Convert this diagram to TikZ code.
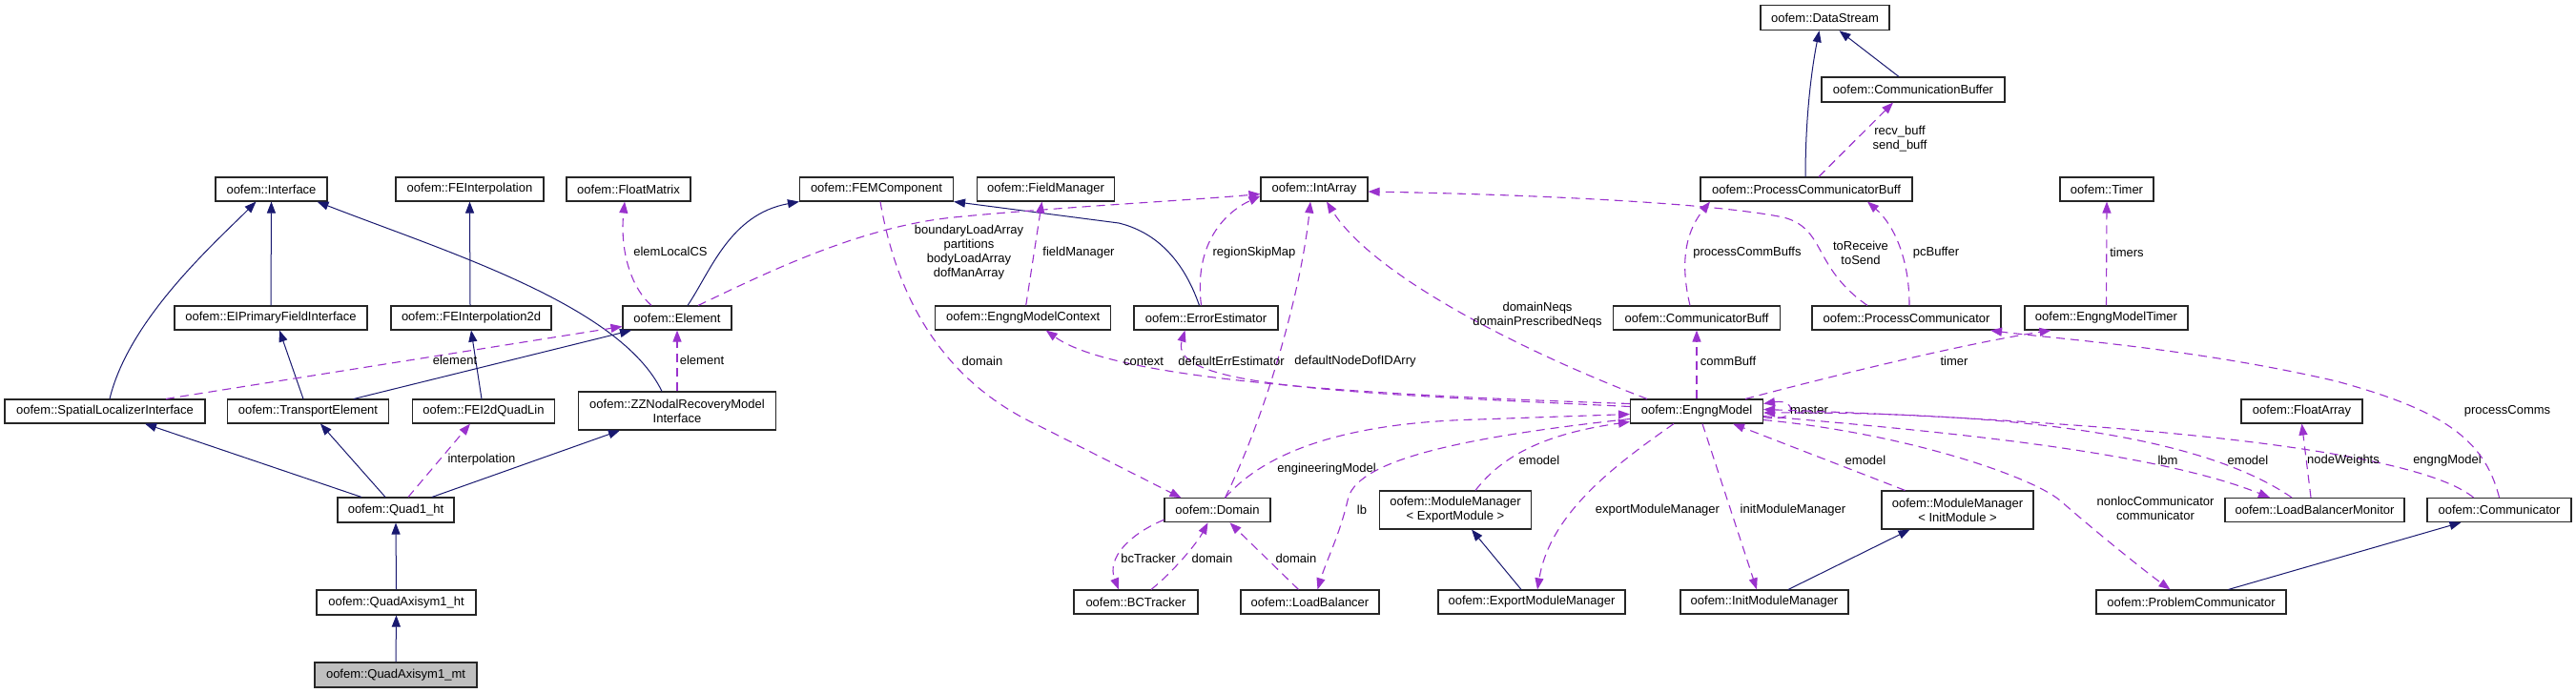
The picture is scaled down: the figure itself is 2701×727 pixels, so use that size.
\documentclass[tikz,border=0pt]{standalone}
\usepackage{fontspec}
\setmainfont{Liberation Sans}
\usetikzlibrary{arrows.meta}
\definecolor{navyc}{HTML}{191970}
\definecolor{purp}{HTML}{9A32CD}
\definecolor{grayfill}{HTML}{BFBFBF}
\newcommand\dgfont{\fontsize{13}{15}\selectfont}
\tikzset{
  box/.style={draw=black!85, line width=1.1pt, fill=white, inner sep=0pt, font=\dgfont, align=center, rectangle},
  inh/.style={draw=navyc, line width=1pt, -{Triangle[length=12pt,width=9pt]}},
  use/.style={draw=purp, line width=1.1pt, dash pattern=on 9pt off 6pt, -{Triangle[length=12pt,width=9pt]}},
  lab/.style={font=\dgfont, inner sep=0pt, align=center}
}
\begin{document}
\begin{tikzpicture}[x=1pt,y=-1pt]
\fill[white] (0,0) rectangle (2701,727);
\useasboundingbox (0,0) rectangle (2701,727);
% row 0
\node[box, minimum width=135pt, minimum height=26pt] (dstream) at (1913.5,18.7) {oofem::DataStream};
\node[box, minimum width=192pt, minimum height=26pt] (cbuf) at (2006,94) {oofem::CommunicationBuffer};
% row 1
\node[box, minimum width=117pt, minimum height=25pt] (intf) at (284.5,198.5) {oofem::Interface};
\node[box, minimum width=155pt, minimum height=25pt] (feint) at (492.5,198.5) {oofem::FEInterpolation};
\node[box, minimum width=130pt, minimum height=25pt] (fmat) at (659,198.5) {oofem::FloatMatrix};
\node[box, minimum width=161pt, minimum height=25pt] (femc) at (919,198.5) {oofem::FEMComponent};
\node[box, minimum width=144pt, minimum height=25pt] (fman) at (1096.5,198.5) {oofem::FieldManager};
\node[box, minimum width=112pt, minimum height=25pt] (iarr) at (1378,198.5) {oofem::IntArray};
\node[box, minimum width=222pt, minimum height=25pt] (pcb) at (1894,198.5) {oofem::ProcessCommunicatorBuff};
\node[box, minimum width=98pt, minimum height=25pt] (timer) at (2209,198.5) {oofem::Timer};
% row 2
\node[box, minimum width=202pt, minimum height=25pt] (elpf) at (284,333.5) {oofem::EIPrimaryFieldInterface};
\node[box, minimum width=168pt, minimum height=25pt] (fe2d) at (494,333.5) {oofem::FEInterpolation2d};
\node[box, minimum width=114pt, minimum height=25pt] (elem) at (710,333.5) {oofem::Element};
\node[box, minimum width=184pt, minimum height=25pt] (emctx) at (1072.7,333.5) {oofem::EngngModelContext};
\node[box, minimum width=151pt, minimum height=25pt] (errest) at (1264.5,333.5) {oofem::ErrorEstimator};
\node[box, minimum width=175pt, minimum height=25pt] (combuff) at (1779,333.5) {oofem::CommunicatorBuff};
\node[box, minimum width=198pt, minimum height=25pt] (pcomm) at (1999,333.5) {oofem::ProcessCommunicator};
\node[box, minimum width=171pt, minimum height=25pt] (emtimer) at (2208.5,333.5) {oofem::EngngModelTimer};
% row 3
\node[box, minimum width=210pt, minimum height=25pt] (sli) at (110,431.5) {oofem::SpatialLocalizerInterface};
\node[box, minimum width=169pt, minimum height=25pt] (transp) at (323,431.5) {oofem::TransportElement};
\node[box, minimum width=149pt, minimum height=25pt] (fei) at (507,431.5) {oofem::FEI2dQuadLin};
\node[box, minimum width=207pt, minimum height=40pt] (zz) at (710,431) {oofem::ZZNodalRecoveryModel\\Interface};
\node[box, minimum width=139pt, minimum height=25pt] (engng) at (1779,431.5) {oofem::EngngModel};
\node[box, minimum width=127pt, minimum height=25pt] (farr) at (2413.5,431.5) {oofem::FloatArray};
% row 4
\node[box, minimum width=122pt, minimum height=26pt] (quad) at (415,535) {oofem::Quad1\_ht};
\node[box, minimum width=111pt, minimum height=25pt] (domain) at (1276.5,535.3) {oofem::Domain};
\node[box, minimum width=159pt, minimum height=40pt] (mmexp) at (1526,535) {oofem::ModuleManager\\< ExportModule >};
\node[box, minimum width=159pt, minimum height=40pt] (mminit) at (2052.5,535) {oofem::ModuleManager\\< InitModule >};
\node[box, minimum width=188pt, minimum height=25pt] (lbm) at (2427,535) {oofem::LoadBalancerMonitor};
\node[box, minimum width=151pt, minimum height=25pt] (comm) at (2620.5,535) {oofem::Communicator};
% row 5
\node[box, minimum width=167pt, minimum height=26pt] (qaht) at (415.5,632) {oofem::QuadAxisym1\_ht};
\node[box, minimum width=130pt, minimum height=25pt] (bct) at (1191,631.5) {oofem::BCTracker};
\node[box, minimum width=145pt, minimum height=25pt] (lbal) at (1373.5,631.5) {oofem::LoadBalancer};
\node[box, minimum width=196pt, minimum height=25pt] (emm) at (1606,631.5) {oofem::ExportModuleManager};
\node[box, minimum width=176pt, minimum height=25pt] (imm) at (1850,631.5) {oofem::InitModuleManager};
\node[box, minimum width=199pt, minimum height=25pt] (prbc) at (2297.5,631.5) {oofem::ProblemCommunicator};
% row 6
\node[box, fill=grayfill, minimum width=170pt, minimum height=26pt] (qamt) at (415,708) {oofem::QuadAxisym1\_mt};

% inheritance edges
\draw[inh] (qamt.north) -- (qaht.south);
\draw[inh] (qaht.north) -- (quad.south);
\draw[inh] ([xshift=-36pt]quad.north) -- ([xshift=42pt]sli.south);
\draw[inh] ([xshift=-11pt]quad.north) -- ([xshift=13pt]transp.south);
\draw[inh] ([xshift=38pt]quad.north) -- ([xshift=-60pt]zz.south);
\draw[inh] ([xshift=5pt]sli.north) .. controls (135,335) and (225,255) .. ([xshift=-16pt]intf.south);
\draw[inh] (elpf.north) -- (intf.south);
\draw[inh] ([xshift=-16pt]zz.north) .. controls (650,320) and (470,265) .. ([xshift=48pt]intf.south);
\draw[inh] ([xshift=-5pt]transp.north) -- ([xshift=9pt]elpf.south);
\draw[inh] ([xshift=48pt]transp.north) -- ([xshift=-48pt]elem.south);
\draw[inh] ([xshift=-2pt]fei.north) -- (fe2d.south);
\draw[inh] ([xshift=-1pt]fe2d.north) -- (feint.south);
\draw[inh] ([xshift=11pt]elem.north) .. controls (745,285) and (765,225) .. (femc.south west);
\draw[inh] ([xshift=-7pt]errest.north) .. controls (1240,270) and (1210,243) .. (1173,234) -- (femc.south east);
\draw[inh] ([xshift=-1pt]pcb.north) .. controls (1893,120) and (1900,70) .. ([xshift=-6pt]dstream.south);
\draw[inh] ([xshift=-15pt]cbuf.north) -- ([xshift=15pt]dstream.south);
\draw[inh] ([xshift=-11pt]emm.north) -- ([xshift=17pt]mmexp.south);
\draw[inh] ([xshift=25pt]imm.north) -- ([xshift=-50pt]mminit.south);
\draw[inh] ([xshift=39pt]prbc.north) -- ([xshift=-40pt]comm.south);

% usage edges
\draw[use] ([xshift=13pt]quad.north) -- ([xshift=-14pt]fei.south);
\node[lab] (l1) at (505,482) {interpolation};
\draw[use] ([xshift=64pt]sli.north) -- ([yshift=-9pt]elem.west);
\node[lab] (l2) at (477,378) {element};
\draw[use] (zz.north) -- (elem.south);
\node[lab] (l3) at (736,378) {element};
\draw[use] ([xshift=-27pt]elem.north) .. controls (660,300) and (650,260) .. ([xshift=-4pt]fmat.south);
\node[lab] (l4) at (703,264) {elemLocalCS};
\draw[use] ([xshift=22pt]elem.north) .. controls (800,288) and (900,238) .. (1000,228) .. controls (1100,218) and (1250,210) .. ([yshift=-5pt]iarr.west);
\node[lab] (l5) at (1016,265) {boundaryLoadArray\\partitions\\bodyLoadArray\\dofManArray};
\draw[use] ([xshift=4pt]femc.south) .. controls (945,340) and (1010,410) .. (1090,447) -- ([xshift=-38pt]domain.north);
\node[lab] (l6) at (1030,379) {domain};
\draw[use] ([xshift=3pt]emctx.north) -- ([xshift=-4pt]fman.south);
\node[lab] (l7) at (1131,265) {fieldManager};
\draw[use] ([xshift=-5pt]errest.north) .. controls (1252,260) and (1280,225) .. ([yshift=-7pt]iarr.west);
\node[lab] (l8) at (1315,265) {regionSkipMap};
\draw[use] ([xshift=8pt]domain.north) .. controls (1330,430) and (1365,300) .. ([xshift=-4pt]iarr.south);
\node[lab] (l9) at (1421,379) {defaultNodeDofIDArry};
\draw[use] ([xshift=-52pt]engng.north) .. controls (1600,370) and (1440,290) .. ([xshift=13pt]iarr.south);
\node[lab] (l10) at (1612,331) {domainNeqs\\domainPrescribedNeqs};
\draw[use] ([yshift=8pt]engng.west) .. controls (1450,415) and (1170,400) .. ([xshift=24pt]emctx.south);
\node[lab] (l11) at (1199,379) {context};
\draw[use] ([yshift=5pt]engng.west) .. controls (1400,412) and (1225,405) .. ([xshift=-22pt]errest.south);
\node[lab] (l12) at (1291,379) {defaultErrEstimator};
\draw[use] ([xshift=8pt]domain.north) .. controls (1330,470) and (1420,443) .. (1550,440) -- ([yshift=-3pt]engng.west);
\node[lab] (l13) at (1391,492) {engineeringModel};
\draw[use] ([xshift=21pt]mmexp.north) .. controls (1575,478) and (1620,455) .. ([yshift=-11pt]engng.west);
\node[lab] (l14) at (1614,483) {emodel};
\draw[use] ([yshift=-8pt]engng.west) .. controls (1520,460) and (1420,485) .. (1413,525) .. controls (1405,560) and (1390,590) .. ([xshift=8pt]lbal.north);
\node[lab] (l15) at (1428,535) {lb};
\draw[use] ([xshift=-24pt]engng.south) .. controls (1690,490) and (1625,540) .. ([xshift=6pt]emm.north);
\node[lab] (l16) at (1738,535) {exportModuleManager};
\draw[use] ([xshift=6pt]engng.south) -- ([xshift=-8pt]imm.north);
\node[lab] (l17) at (1880,535) {initModuleManager};
\draw[use] ([xshift=-55pt]mminit.north) -- ([xshift=38pt]engng.south);
\node[lab] (l18) at (1956,483) {emodel};
\draw[use] (engng.north) -- (combuff.south);
\node[lab] (l19) at (1812,379) {commBuff};
\draw[use] ([xshift=51pt]engng.north) .. controls (1900,400) and (2050,362) .. ([xshift=-58pt]emtimer.south);
\node[lab] (l20) at (2049,379) {timer};
\draw[use] ([yshift=-6pt]engng.east) .. controls (1885,445) and (1885,418) .. ([yshift=8pt]engng.east);
\node[lab] (l21) at (1897,430) {master};
\draw[use] ([xshift=-27pt]comm.north) .. controls (2540,478) and (2300,445) .. ([yshift=2pt]engng.east);
\node[lab] (l22) at (2566,483) {engngModel};
\draw[use] ([xshift=-24pt]lbm.north) .. controls (2320,465) and (2150,432) .. ([yshift=-1.5pt]engng.east);
\node[lab] (l23) at (2357,483) {emodel};
\draw[use] ([yshift=-5pt]engng.east) .. controls (2000,450) and (2250,470) .. ([xshift=-47pt]lbm.north);
\node[lab] (l24) at (2273,483) {lbm};
\draw[use] ([yshift=-9pt]engng.east) .. controls (2000,455) and (2130,500) .. (2160,525) .. controls (2200,560) and (2250,600) .. ([xshift=-22pt]prbc.north);
\node[lab] (l25) at (2260,533.5) {nonlocCommunicator\\communicator};
\draw[use] ([xshift=-4pt]lbm.north) -- (farr.south);
\node[lab] (l26) at (2457,483) {nodeWeights};
\draw[use] (comm.north) .. controls (2605,460) and (2560,430) .. (2450,400) .. controls (2300,365) and (2150,355) .. ([xshift=88pt]pcomm.south);
\node[lab] (l27) at (2629,431) {processComms};
\draw[use] ([xshift=3pt]pcomm.north) .. controls (2002,270) and (1985,235) .. ([xshift=64pt]pcb.south);
\node[lab] (l28) at (2030,265) {pcBuffer};
\draw[use] ([xshift=-41pt]pcomm.north) .. controls (1900,280) and (1915,240) .. (1870,228) .. controls (1780,210) and (1550,203) .. ([yshift=-2.5pt]iarr.east);
\node[lab] (l29) at (1951,265) {toReceive\\toSend};
\draw[use] ([xshift=-7pt]combuff.north) .. controls (1760,270) and (1770,240) .. ([xshift=-101pt]pcb.south);
\node[lab] (l30) at (1832,265) {processCommBuffs};
\draw[use] ([xshift=13pt]pcb.north) -- ([xshift=-21pt]cbuf.south);
\node[lab] (l31) at (1992,146) {recv\_buff\\send\_buff};
\draw[use] (emtimer.north) -- (timer.south);
\node[lab] (l32) at (2230,265) {timers};
\draw[use] ([yshift=-10pt]domain.west) .. controls (1185,560) and (1160,585) .. ([xshift=-18pt]bct.north);
\node[lab] (l33) at (1204,586) {bcTracker};
\draw[use] ([xshift=16pt]bct.north) .. controls (1230,600) and (1255,570) .. ([xshift=-10pt]domain.south);
\node[lab] (l34) at (1271,586) {domain};
\draw[use] ([xshift=-12pt]lbal.north) -- ([xshift=13pt]domain.south);
\node[lab] (l35) at (1359,586) {domain};
\end{tikzpicture}
\end{document}
